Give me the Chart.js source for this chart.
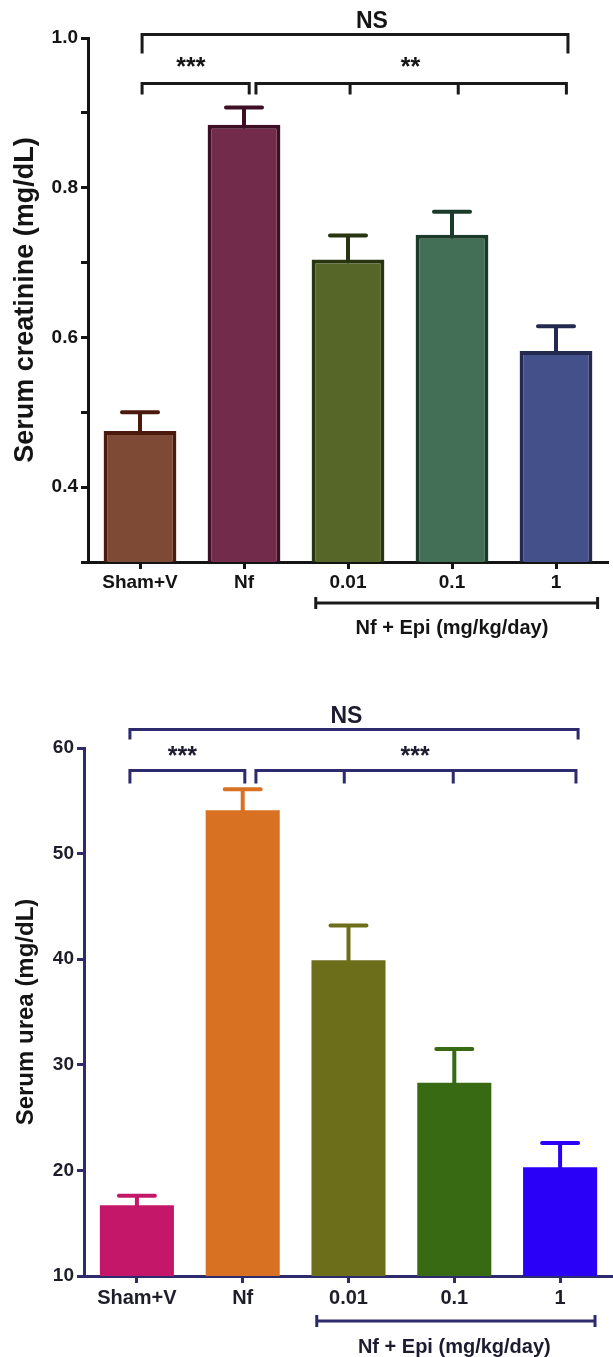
<!DOCTYPE html>
<html>
<head>
<meta charset="utf-8">
<script src="https://cdn.jsdelivr.net/npm/chart.js@4.4.1/dist/chart.umd.min.js"></script>
<style>
  html, body { margin: 0; padding: 0; background: #fff; }
  .panel { position: absolute; left: 0; width: 613px; }
  #top { top: 0; height: 650px; }
  #bottom { top: 650px; height: 707px; }
</style>
</head>
<body>
<div class="panel" id="top"><canvas id="creat"></canvas></div>
<div class="panel" id="bottom"><canvas id="urea"></canvas></div>
<script>
const groups = ["Sham+V", "Nf", "0.01", "0.1", "1"]
const groupLabel = "Nf + Epi (mg/kg/day)"

const creatMean = [0.475, 0.884, 0.704, 0.737, 0.582]
const creatSem = [0.025, 0.023, 0.032, 0.031, 0.033]
const creatTicks = [0.4, 0.6, 0.8, 1.0]

const ureaMean = [16.7, 54.1, 39.9, 28.3, 20.3]
const ureaSem = [0.9, 2.0, 3.3, 3.2, 2.3]
const ureaTicks = [10, 20, 30, 40, 50, 60]

const FONT = "'Liberation Sans', Arial, Helvetica, sans-serif"

// x position for a fractional category index
function catX(x, idx) {
  const p0 = x.getPixelForValue(0)
  const p1 = x.getPixelForValue(1)
  return p0 + idx * (p1 - p0)
}

const errorBars = {
  id: "errorBars",
  afterDatasetsDraw(chart, args, opts) {
    const { ctx } = chart
    const y = chart.scales.y
    const ds = chart.data.datasets[0]
    ctx.save()
    ctx.lineWidth = 4
    ctx.lineCap = "round"
    chart.getDatasetMeta(0).data.forEach((bar, i) => {
      const top = y.getPixelForValue(ds.data[i] + opts.sem[i])
      ctx.strokeStyle = opts.colors[i]
      ctx.beginPath()
      ctx.moveTo(bar.x, bar.y + 2)
      ctx.lineTo(bar.x, top)
      ctx.moveTo(bar.x - 18, top)
      ctx.lineTo(bar.x + 18, top)
      ctx.stroke()
    })
    ctx.restore()
  }
}

const brackets = {
  id: "brackets",
  afterDraw(chart, args, opts) {
    const { ctx } = chart
    const { x, y } = chart.scales
    ctx.save()
    ctx.strokeStyle = opts.color
    ctx.fillStyle = opts.textColor
    ctx.lineWidth = 3
    ctx.lineCap = "butt"
    ctx.textAlign = "center"
    ctx.textBaseline = "alphabetic"
    opts.items.forEach(b => {
      const py = Math.round(y.getPixelForValue(b.level)) + 0.5
      ctx.beginPath()
      ctx.moveTo(catX(x, b.from) - 1.5, py)
      ctx.lineTo(catX(x, b.to) + 1.5, py)
      b.drops.forEach(d => {
        const px = catX(x, d)
        ctx.moveTo(px, py)
        ctx.lineTo(px, py + b.drop)
      })
      ctx.stroke()
      ctx.font = b.font
      ctx.fillText(b.text, catX(x, b.at), py - b.gap)
    })

    // group line under the dose labels
    const g = opts.group
    const gy = x.bottom - x.height + g.lineOffset
    const gx1 = catX(x, g.from)
    const gx2 = catX(x, g.to)
    ctx.beginPath()
    ctx.moveTo(gx1, gy)
    ctx.lineTo(gx2, gy)
    ctx.moveTo(gx1, gy - 6)
    ctx.lineTo(gx1, gy + 6)
    ctx.moveTo(gx2, gy - 6)
    ctx.lineTo(gx2, gy + 6)
    ctx.stroke()
    ctx.font = "bold 20px " + FONT
    ctx.textBaseline = "middle"
    ctx.fillText(groupLabel, catX(x, g.textAt), gy + g.textOffset)
    ctx.restore()
  }
}

function axisOpts(color) {
  return {
    grid: { drawOnChartArea: false, offset: false, tickLength: 7, tickWidth: 3, tickColor: color },
    border: { color: color, width: 3 }
  }
}

// top panel: serum creatinine
const creatAxis = "#141414"
new Chart(document.getElementById("creat"), {
  type: "bar",
  data: {
    labels: groups,
    datasets: [{
      data: creatMean,
      backgroundColor: ["#7e4a35", "#722b4b", "#566629", "#446f57", "#43508a"],
      borderColor: ["#4b1a0c", "#3e0f24", "#283510", "#1c3a2a", "#232a50"],
      borderWidth: 4,
      borderSkipped: "bottom",
      categoryPercentage: 1,
      barPercentage: 0.7
    }]
  },
  options: {
    responsive: true,
    maintainAspectRatio: false,
    animation: false,
    layout: { padding: { top: 38, right: 5, left: 0, bottom: 0 } },
    scales: {
      x: {
        ...axisOpts(creatAxis),
        afterFit: s => { s.height = 88 },
        ticks: { color: creatAxis, font: { family: FONT, size: 19, weight: "bold" }, padding: 2, maxRotation: 0, autoSkip: false }
      },
      y: {
        ...axisOpts(creatAxis),
        min: 0.3,
        max: 1.0,
        afterFit: s => { s.width = 88 },
        ticks: {
          stepSize: 0.1,
          color: creatAxis,
          font: { family: FONT, size: 19, weight: "bold" },
          padding: 3,
          callback: v => creatTicks.some(t => Math.abs(t - v) < 1e-6) ? v.toFixed(1) : ""
        },
        title: {
          display: true,
          text: "Serum creatinine (mg/dL)",
          color: creatAxis,
          font: { family: FONT, size: 27, weight: "bold" },
          padding: { top: 9, bottom: 0 }
        }
      }
    },
    plugins: {
      legend: { display: false },
      tooltip: { enabled: false },
      errorBars: { sem: creatSem, colors: ["#4b1a0c", "#3e0f24", "#283510", "#1c3a2a", "#232a50"] },
      brackets: {
        color: "#1a1a1a",
        textColor: "#141414",
        items: [
          { level: 1.005, from: 0.02, to: 4.115, drops: [0.02, 4.115], drop: 19, text: "NS", at: 2.23, gap: 7, font: "bold 23px " + FONT },
          { level: 0.94, from: 0.02, to: 1.05, drops: [0.02, 1.05], drop: 11, text: "***", at: 0.49, gap: 9, font: "bold 25px " + FONT },
          { level: 0.94, from: 1.115, to: 4.1, drops: [1.115, 2.02, 3.06, 4.1], drop: 11, text: "**", at: 2.6, gap: 9, font: "bold 25px " + FONT }
        ],
        group: { from: 1.69, to: 4.4, textAt: 3.0, lineOffset: 41, textOffset: 25 }
      }
    }
  },
  plugins: [errorBars, brackets]
})

// bottom panel: serum urea
const ureaAxis = "#2d2a6e"
const ureaColors = ["#c5176a", "#d87122", "#6c6e19", "#386a14", "#2b00f6"]
new Chart(document.getElementById("urea"), {
  type: "bar",
  data: {
    labels: groups,
    datasets: [{
      data: ureaMean,
      backgroundColor: ureaColors,
      borderWidth: 0,
      categoryPercentage: 1,
      barPercentage: 0.7
    }]
  },
  options: {
    responsive: true,
    maintainAspectRatio: false,
    animation: false,
    layout: { padding: { top: 98, right: 0, left: 0, bottom: 0 } },
    scales: {
      x: {
        ...axisOpts(ureaAxis),
        afterFit: s => { s.height = 81 },
        ticks: { color: "#1e1e2a", font: { family: FONT, size: 20, weight: "bold" }, padding: 3, maxRotation: 0, autoSkip: false }
      },
      y: {
        ...axisOpts(ureaAxis),
        min: 10,
        max: 60,
        afterFit: s => { s.width = 84 },
        ticks: {
          stepSize: 10,
          color: "#1e1e2a",
          font: { family: FONT, size: 19, weight: "bold" },
          padding: 3,
          callback: v => ureaTicks.includes(v) ? v : ""
        },
        title: {
          display: true,
          text: "Serum urea (mg/dL)",
          color: "#141414",
          font: { family: FONT, size: 24, weight: "bold" },
          padding: { top: 12, bottom: 0 }
        }
      }
    },
    plugins: {
      legend: { display: false },
      tooltip: { enabled: false },
      errorBars: { sem: ureaSem, colors: ureaColors },
      brackets: {
        color: ureaAxis,
        textColor: "#1c1b30",
        items: [
          { level: 61.8, from: -0.066, to: 4.17, drops: [-0.066, 4.17], drop: 10, text: "NS", at: 1.98, gap: 7, font: "bold 23px " + FONT },
          { level: 57.9, from: -0.066, to: 1.02, drops: [-0.066, 1.02], drop: 13, text: "***", at: 0.43, gap: 7, font: "bold 25px " + FONT },
          { level: 57.9, from: 1.125, to: 4.15, drops: [1.125, 1.96, 2.99, 4.15], drop: 13, text: "***", at: 2.63, gap: 7, font: "bold 25px " + FONT }
        ],
        group: { from: 1.70, to: 4.33, textAt: 3.0, lineOffset: 45, textOffset: 26 }
      }
    }
  },
  plugins: [errorBars, brackets]
})
</script>
</body>
</html>
